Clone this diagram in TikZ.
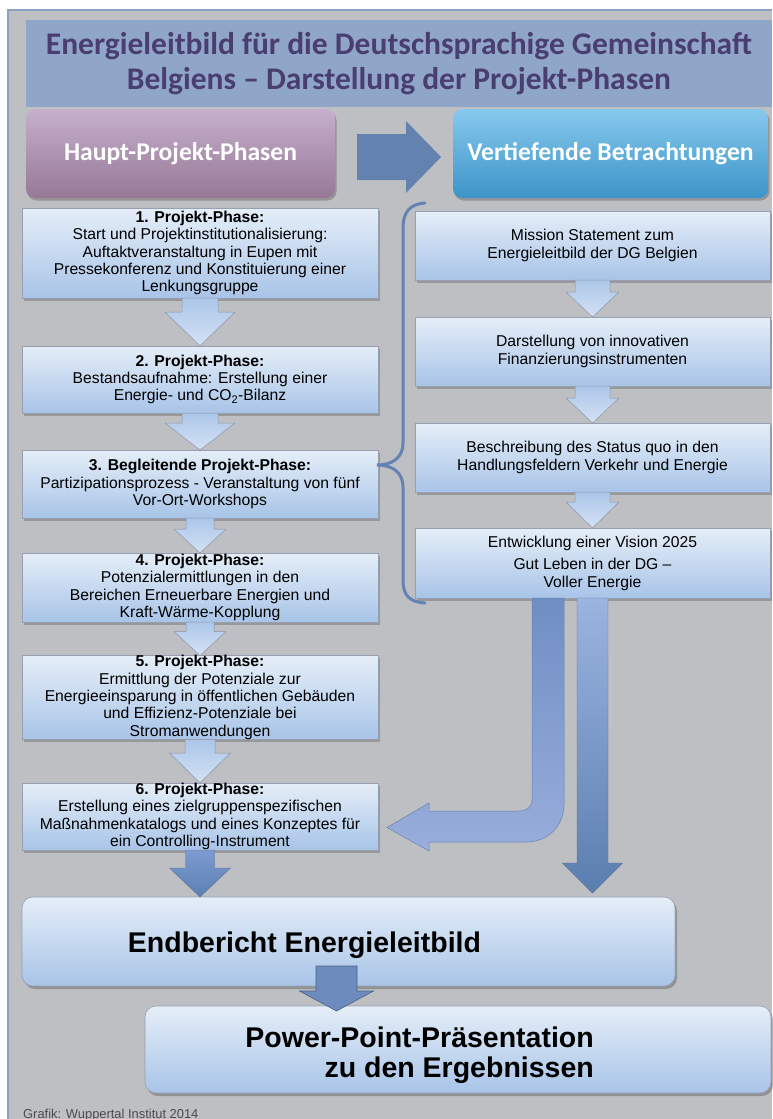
\documentclass[tikz,border=0pt]{standalone}
\usepackage{fontspec}
\setmainfont{Liberation Sans}
\newfontfamily\calib{Carlito}
\usetikzlibrary{calc,shadows}
\definecolor{panelgray}{RGB}{190,191,195}
\definecolor{panelline}{RGB}{140,160,195}
\definecolor{titlebg}{RGB}{144,166,200}
\definecolor{titletxt}{RGB}{74,62,112}
\definecolor{purptop}{RGB}{198,176,205}
\definecolor{purpbot}{RGB}{150,120,150}
\definecolor{bluetop}{RGB}{135,201,238}
\definecolor{bluebot}{RGB}{60,148,200}
\definecolor{hdrarrow}{RGB}{100,130,176}
\definecolor{boxtop}{RGB}{229,238,248}
\definecolor{boxbot}{RGB}{168,196,232}
\definecolor{boxedge}{RGB}{150,160,176}
\definecolor{ltarrowtop}{RGB}{172,198,233}
\definecolor{ltarrowbot}{RGB}{212,226,244}
\definecolor{ltarrowedge}{RGB}{140,150,166}
\definecolor{dkarrowtop}{RGB}{125,155,208}
\definecolor{dkarrowbot}{RGB}{92,128,178}
\definecolor{dkarrowedge}{RGB}{95,115,150}
\definecolor{longtop}{RGB}{155,180,224}
\definecolor{longbot}{RGB}{90,126,176}
\definecolor{curvtop}{RGB}{112,142,196}
\definecolor{curvbot}{RGB}{152,174,220}
\definecolor{curvedge}{RGB}{105,130,178}
\definecolor{pptarrow}{RGB}{108,140,190}
\definecolor{pptedge}{RGB}{75,95,130}
\definecolor{bracecol}{RGB}{100,130,180}
\tikzset{
  phase/.style={draw=boxedge, line width=0.6pt, top color=boxtop, bottom color=boxbot,
    inner sep=0pt, outer sep=0pt, align=center, text=black,
    font=\fontsize{15.7}{17.3}\selectfont,
    drop shadow={shadow xshift=2pt, shadow yshift=-2.5pt, opacity=0.5, fill=black!55}},
  lphase/.style={phase, minimum width=356pt},
  rphase/.style={phase, minimum width=355pt, minimum height=69pt},
  hdr/.style={rounded corners=9pt, inner sep=0pt, outer sep=0pt, minimum height=89pt,
    text=white, font=\calib\bfseries\fontsize{25.6}{30}\selectfont,
    drop shadow={shadow xshift=1.5pt, shadow yshift=-2.5pt, opacity=0.45, fill=black!60}},
  bigbox/.style={rounded corners=11pt, draw=boxedge, line width=0.6pt, top color=boxtop,
    bottom color=boxbot, inner sep=0pt, outer sep=0pt,
    drop shadow={shadow xshift=2pt, shadow yshift=-3pt, opacity=0.5, fill=black!60}},
  bigtext/.style={font=\bfseries\fontsize{28.5}{29.5}\selectfont, text=black, inner sep=0pt},
  ltarrow/.style={draw=ltarrowedge, line width=0.5pt, top color=ltarrowtop, bottom color=ltarrowbot},
  dkarrow/.style={draw=dkarrowedge, line width=0.4pt, top color=dkarrowtop, bottom color=dkarrowbot},
  longarrow/.style={draw=dkarrowedge, line width=0.4pt, top color=longtop, bottom color=longbot},
  curvarrow/.style={draw=curvedge, line width=0.5pt, top color=curvtop, bottom color=curvbot},
  pptarr/.style={draw=pptedge, line width=0.6pt, fill=pptarrow},
}
% #1 from, #2 to (tip), #3 shaft half width, #4 head half width, #5 head length, #6 style
\newcommand{\blockdown}[6]{%
  \path[#6] let \p1=(#1), \p2=(#2) in
    (\x1-#3pt,\y1) -- (\x1-#3pt,\y2+#5pt) -- (\x1-#4pt,\y2+#5pt) -- (\x1,\y2)
    -- (\x1+#4pt,\y2+#5pt) -- (\x1+#3pt,\y2+#5pt) -- (\x1+#3pt,\y1) -- cycle;}
\begin{document}
\begin{tikzpicture}[x=1pt,y=-1pt]
\useasboundingbox (0,0) rectangle (772,1119);
\fill[white] (0,0) rectangle (772,1119);
\fill[panelgray] (8,10) rectangle (772,1119);
\draw[panelline, line width=1.2pt] (8,1119) -- (8,10) -- (772,10);

% title
\node[fill=titlebg, minimum width=746pt, minimum height=87pt, inner sep=0pt, outer sep=0pt,
  align=center, text=titletxt, font=\calib\bfseries\fontsize{31.5}{35}\selectfont]
  (title) at (399,63.5) {Energieleitbild für die Deutschsprachige Gemeinschaft\\Belgiens – Darstellung der Projekt-Phasen};

% headers
\node[hdr, top color=purptop, bottom color=purpbot, minimum width=309pt] (hp) at (180.5,153.5) {Haupt-Projekt-Phasen};
\node[hdr, top color=bluetop, bottom color=bluebot, minimum width=315pt] (vb) at (610.5,153.5) {Vertiefende Betrachtungen};
\path[fill=hdrarrow] ($(hp.east)+(22,-19.5)$) -- ($(hp.east)+(71,-19.5)$) -- ($(hp.east)+(71,-32.5)$)
  -- ($(vb.west)+(-12,3.5)$) -- ($(hp.east)+(71,39.5)$) -- ($(hp.east)+(71,26.5)$)
  -- ($(hp.east)+(22,26.5)$) -- cycle;

% left phases
\node[lphase, minimum height=90pt] (p1) at (200,253) {\textbf{1. Projekt-Phase:}\\Start und Projektinstitutionalisierung:\\Auftaktveranstaltung in Eupen mit\\Pressekonferenz und Konstituierung einer\\Lenkungsgruppe};
\node[lphase, minimum height=67pt] (p2) at (200,379.5) {\textbf{2. Projekt-Phase:}\\Bestandsaufnahme: Erstellung einer\\Energie- und CO\textsubscript{2}-Bilanz};
\node[lphase, minimum height=68pt] (p3) at (200,484) {\textbf{3. Begleitende Projekt-Phase:}\\Partizipationsprozess - Veranstaltung von fünf\\Vor-Ort-Workshops};
\node[lphase, minimum height=69pt] (p4) at (200,587.5) {\textbf{4. Projekt-Phase:}\\Potenzialermittlungen in den\\Bereichen Erneuerbare Energien und\\Kraft-Wärme-Kopplung};
\node[lphase, minimum height=81pt] (p5) at (200,697.5) {\textbf{5. Projekt-Phase:}\\Ermittlung der Potenziale zur\\Energieeinsparung in öffentlichen Gebäuden\\und Effizienz-Potenziale bei\\Stromanwendungen};
\node[lphase, minimum height=67pt] (p6) at (200,816.5) {\textbf{6. Projekt-Phase:}\\Erstellung eines zielgruppenspezifischen\\Maßnahmenkatalogs und eines Konzeptes für\\ein Controlling-Instrument};

% right column
\node[rphase] (rA) at (592.5,245.5) {Mission Statement zum\\Energieleitbild der DG Belgien};
\node[rphase] (rB) at (592.5,351.5) {Darstellung von innovativen\\Finanzierungsinstrumenten};
\node[rphase] (rC) at (592.5,457.5) {Beschreibung des Status quo in den\\Handlungsfeldern Verkehr und Energie};
\node[rphase, minimum height=70pt] (rD) at (592.5,563) {Entwicklung einer Vision 2025\\[5.5pt]Gut Leben in der DG –\\Voller Energie};

% brace
\draw[bracecol, line width=3pt, line cap=round]
  (425,203) .. controls (410,204) and (403,212) .. (403,228) -- (403,443)
  .. controls (403,458) and (392,465) .. ($(p3.east)+(-1,-19)$)
  .. controls (392,465) and (403,472) .. (403,487) -- (403,580)
  .. controls (403,596) and (410,602) .. (425,603);

% final boxes
\node[bigbox, minimum width=653pt, minimum height=89pt] (endb) at (348.5,941.5) {};
\node[bigtext] (endt) at (304.5,945.5) {Endbericht Energieleitbild};
\node[bigbox, minimum width=626pt, minimum height=87pt] (ppt) at (458,1049.5) {};
\node[bigtext, align=right, anchor=east] (pptt) at (594,1055) {Power-Point-Präsentation\\zu den Ergebnissen};

% arrows left
\blockdown{p1.south}{p2.north}{18}{35}{34}{ltarrow}
\blockdown{p2.south}{p3.north}{18}{35}{27}{ltarrow}
\blockdown{p3.south}{p4.north}{14}{26}{24}{ltarrow}
\blockdown{p4.south}{p5.north}{14}{26}{24}{ltarrow}
\blockdown{p5.south}{p6.north}{15}{30.5}{30}{ltarrow}
\blockdown{p6.south}{endb.north -| p6.south}{14.5}{30.5}{29}{dkarrow}

% arrows right
\blockdown{rA.south}{rB.north}{17.5}{26.5}{25}{ltarrow}
\blockdown{rB.south}{rC.north}{17.5}{26.5}{25}{ltarrow}
\blockdown{rC.south}{rD.north}{17.5}{26.5}{26}{ltarrow}
\blockdown{rD.south}{$(endb.north -| rD.south)+(0,-4)$}{15.5}{30}{30}{longarrow}

% curved arrow to phase 6
\path[curvarrow] ($(rD.south)+(-60.5,0)$) -- (532,800) .. controls (532,807) and (527,811) .. (518,811)
  -- (429,811) -- (429,803) -- ($(p6.east)+(9,11)$) -- (429,851) -- (429,842)
  -- (526,842) .. controls (548,842) and (564,826) .. (564,804) -- ($(rD.south)+(-28.5,0)$) -- cycle;

% arrow end -> ppt
\blockdown{$(endb.south)+(-12,-20)$}{$(ppt.north -| endb.south)+(-12,5)$}{20.5}{37}{20}{pptarr}

% credit
\node[anchor=base west, inner sep=0pt, text=black!70, font=\fontsize{12.9}{14}\selectfont] (credit) at (23,1118) {Grafik: Wuppertal Institut 2014};
\end{tikzpicture}
\end{document}
